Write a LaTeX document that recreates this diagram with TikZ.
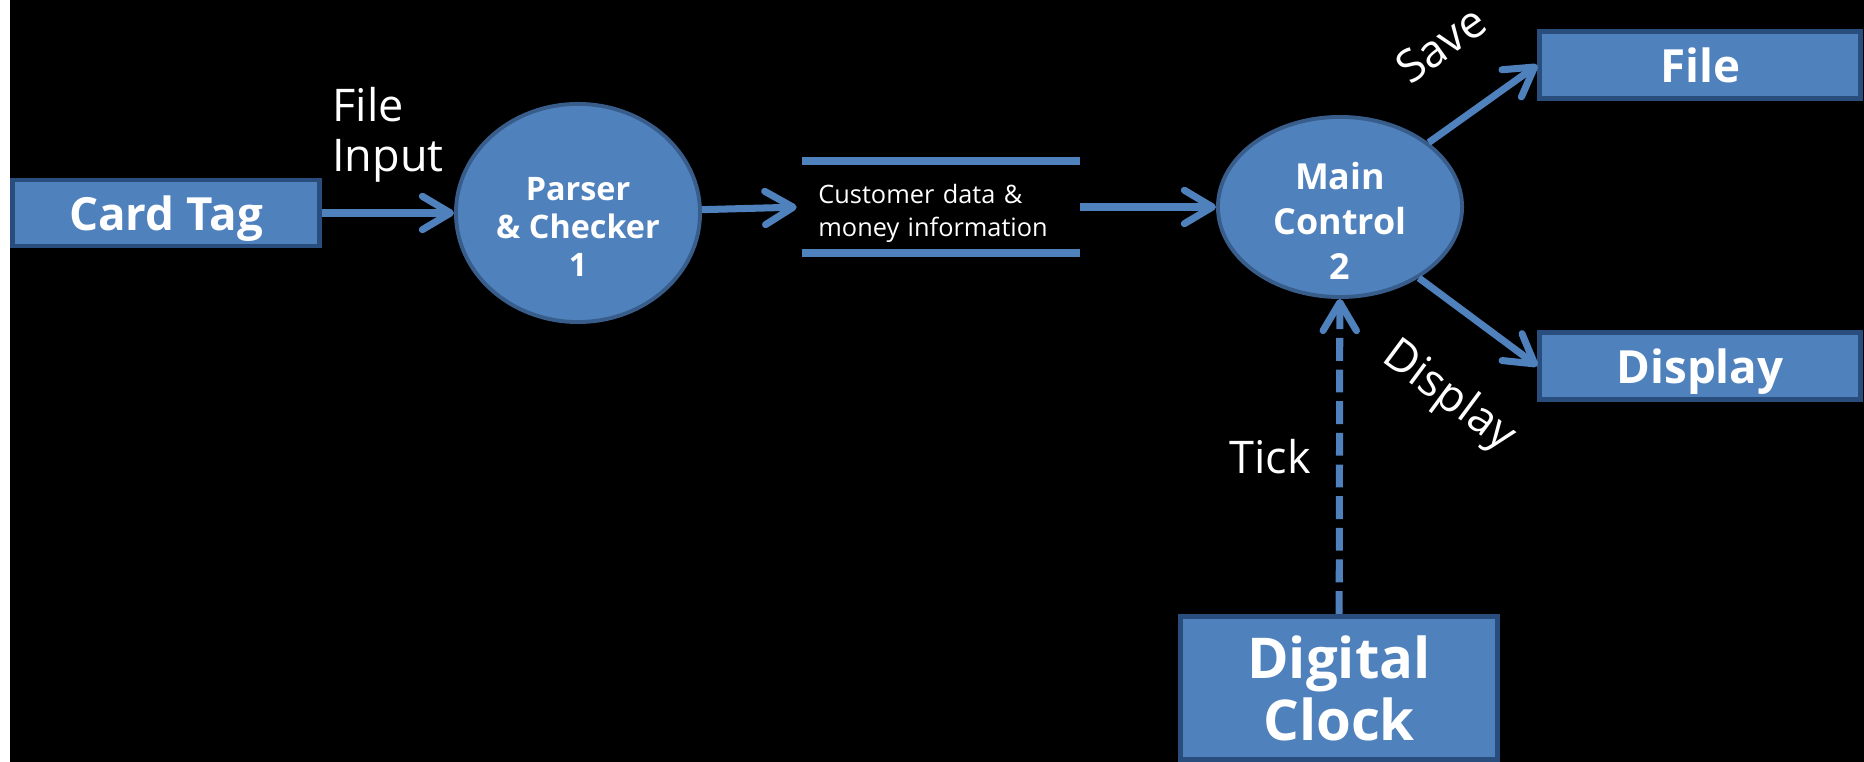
\documentclass[tikz,border=0pt]{standalone}
\usepackage{fontspec}
\setmainfont{Open Sans}
\usepackage{tikz}
\usetikzlibrary{shapes.geometric,arrows.meta,positioning}
\definecolor{boxblue}{HTML}{4F81BD}
\definecolor{boxline}{HTML}{294E7E}
\definecolor{procline}{HTML}{385D8A}

\begin{document}
\begin{tikzpicture}[x=0.01cm,y=-0.01cm,
  flow/.style={boxblue,line width=2pt,-{Straight Barb[length=8pt,width=9.5pt,round]}},
  entity/.style={rectangle,draw=boxline,fill=boxblue,line width=1.4pt,text=white,align=center,text depth=0pt,font=\bfseries\fontsize{13}{15}\selectfont},
  process/.style={ellipse,draw=procline,fill=boxblue,line width=1.1pt},
  proctext/.style={text=white,align=center,font=\bfseries\fontsize{9.2}{10.8}\selectfont},
  storetext/.style={text=white,align=left,inner xsep=0.16cm,inner ysep=0pt,font=\fontsize{7.2}{9.4}\selectfont},
  storeline/.style={boxblue,line width=2.3pt},
  flowlabel/.style={text=white,inner sep=0pt,font=\fontsize{12.8}{14.2}\selectfont}
]
\useasboundingbox (0,0) rectangle (1864,762);
\fill[white] (0,0) rectangle (10,762);
\fill[black] (10,0) rectangle (1864,762);

\node[entity,minimum width=3.07cm,minimum height=0.66cm] (card) at (166,213) {Card Tag};
\node[process,minimum width=2.44cm,minimum height=2.18cm] (p1) at (578,213) {};
\node[proctext] (p1text) at ([yshift=-0.14cm]p1.center) {Parser\\\& Checker\\1};
\node[minimum width=2.77cm,minimum height=0.91cm] (store) at (941,207) {};
\draw[storeline] (store.north west) -- (store.north east);
\draw[storeline] (store.south west) -- (store.south east);
\node[storetext,text width=2.45cm] (storetext) at ([yshift=-0.06cm]store.center) {Customer data \&\\money information};
\node[process,minimum width=2.44cm,minimum height=1.80cm] (p2) at (1340,207) {};
\node[proctext,font=\bfseries\fontsize{10.2}{12.8}\selectfont] (p2text) at ([yshift=-0.14cm]p2.center) {Main\\Control\\2};
\node[entity,minimum width=3.20cm,minimum height=0.67cm] (file) at (1700,65) {File};
\node[entity,minimum width=3.20cm,minimum height=0.67cm] (display) at (1700,366) {Display};
\node[entity,minimum width=3.17cm,minimum height=1.43cm,font=\bfseries\fontsize{16}{17.6}\selectfont] (clock) at (1339,688) {Digital\\Clock};

\draw[flow] (card) -- node[flowlabel,above=0.27cm,align=left] (input) {File\\Input} (p1);
\draw[flow,shorten >=0.05cm] (p1) -- (store.west);
\draw[flow] (store.east) -- (p2);
\draw[flow] (p2.36) -- node[flowlabel,sloped,above=0.53cm] (save) {Save} (file.west);
\draw[flow] (p2.-42) -- node[flowlabel,sloped,below=0.52cm,pos=0.64] (show) {Display} (display.west);
\draw[flow,dash pattern=on 6.5pt off 2.5pt] (clock) -- node[flowlabel,left=0.25cm] (tick) {Tick} (p2);
\end{tikzpicture}
\end{document}
